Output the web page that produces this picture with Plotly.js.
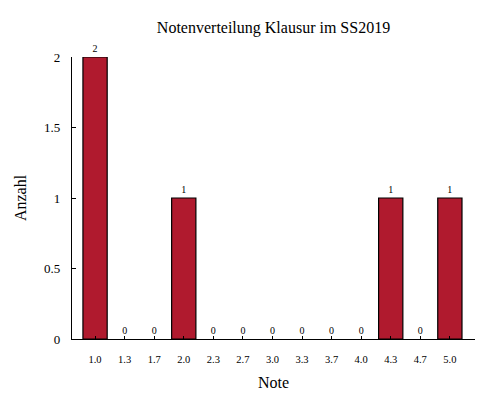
<!DOCTYPE html>
<html>
<head>
<meta charset="utf-8">
<script src="https://cdn.plot.ly/plotly-3.0.1.min.js"></script>
<style>html,body{margin:0;padding:0;background:#fff;}#chart{width:499px;height:400px;}</style>
</head>
<body>
<div id="chart"></div>
<script>
const grades = ["1.0","1.3","1.7","2.0","2.3","2.7","3.0","3.3","3.7","4.0","4.3","4.7","5.0"];
const counts = [2,0,0,1,0,0,0,0,0,0,1,0,1];
const yTicks = [0,0.5,1,1.5,2];
const yTickLabels = ["0","0.5","1","1.5","2"];

const serif = "Liberation Serif, DejaVu Serif, serif";

const trace = {
  type: "bar",
  x: grades,
  y: counts,
  text: counts.map(String),
  textposition: "outside",
  cliponaxis: false,
  textfont: {family: serif, size: 10, color: "#000"},
  marker: {color: "#b01a2e", line: {color: "#000", width: counts.map(v => v > 0 ? 1.2 : 0)}},
  width: 0.82,
  hoverinfo: "none"
};

const layout = {
  width: 499, height: 400,
  margin: {l: 72, r: 24, t: 57, b: 61},
  paper_bgcolor: "#fff", plot_bgcolor: "#fff",
  showlegend: false,
  font: {family: serif, color: "#000"},
  title: {text: "Notenverteilung Klausur im SS2019", font: {family: serif, size: 16, color: "#000"},
          x: 0.5, xref: "paper", y: 0.932, yref: "container", yanchor: "middle"},
  xaxis: {
    type: "category",
    range: [-0.78, 12.85],
    showline: true, linecolor: "#000", linewidth: 1.2,
    ticks: "inside", ticklen: 3, tickcolor: "#000", tickwidth: 1,
    tickfont: {family: serif, size: 10.5, color: "#000"},
    ticklabelstandoff: 10,
    showgrid: false, zeroline: false,
    title: {text: "Note", font: {family: serif, size: 16, color: "#000"}, standoff: 13}
  },
  yaxis: {
    range: [0, 2],
    tickvals: yTicks, ticktext: yTickLabels,
    showline: true, linecolor: "#000", linewidth: 1.2,
    ticks: "inside", ticklen: 4, tickcolor: "#000", tickwidth: 1,
    tickfont: {family: serif, size: 13, color: "#000"},
    ticklabelstandoff: 8,
    showgrid: false, zeroline: false,
    title: {text: "Anzahl", font: {family: serif, size: 16, color: "#000"}, standoff: 13}
  }
};

Plotly.newPlot("chart", [trace], layout, {staticPlot: true, displayModeBar: false});
</script>
</body>
</html>
